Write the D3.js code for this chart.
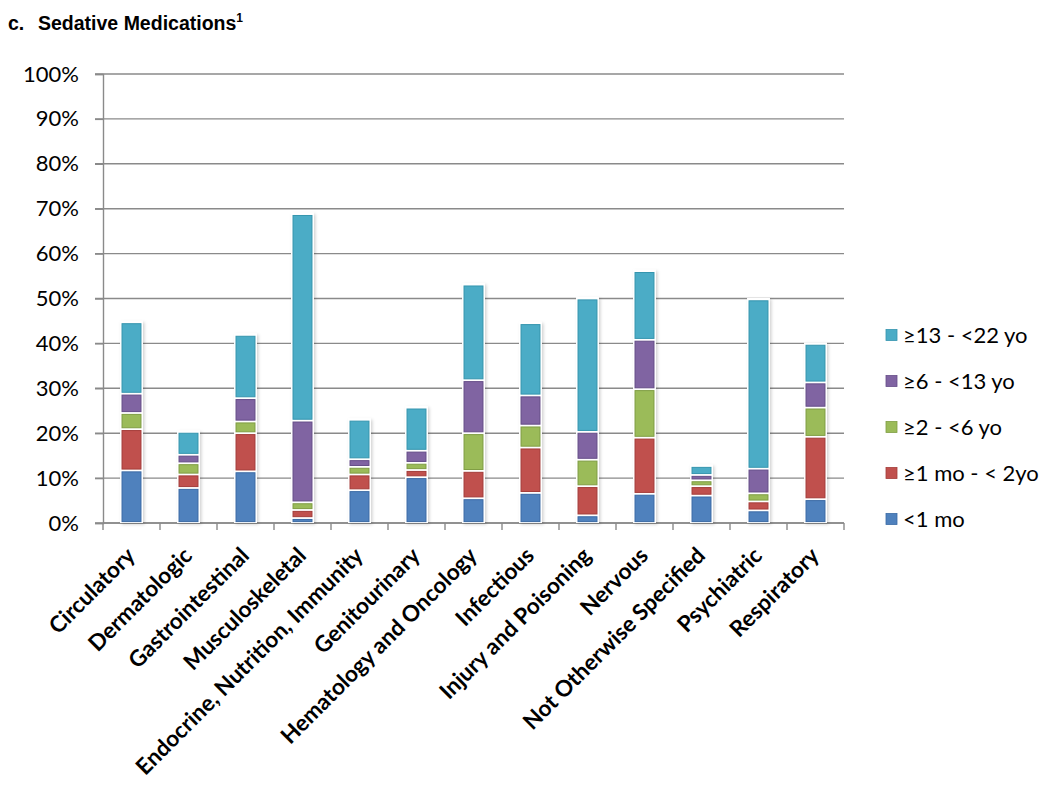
<!DOCTYPE html>
<html>
<head>
<meta charset="utf-8">
<script src="https://cdn.jsdelivr.net/npm/d3@7"></script>
<style>
  body { margin: 0; background: #fff; }
  svg { display: block; }
</style>
</head>
<body>
<svg id="chart" width="1050" height="794"></svg>
<script>
const categories = ["Circulatory", "Dermatologic", "Gastrointestinal", "Musculoskeletal",
  "Endocrine, Nutrition, Immunity", "Genitourinary", "Hematology and Oncology", "Infectious",
  "Injury and Poisoning", "Nervous", "Not Otherwise Specified", "Psychiatric", "Respiratory"];
const seriesNames = ["<1 mo", "≥1 mo - < 2yo", "≥2 - <6 yo", "≥6 - <13 yo", "≥13 - <22 yo"];
const lt1mo   = [11.7, 7.8, 11.5, 1.1, 7.3, 10.2, 5.5, 6.7, 1.7, 6.5, 6.1, 2.8, 5.3];
const mo1to2y = [9.2, 3.0, 8.5, 1.8, 3.5, 1.6, 6.1, 10.1, 6.5, 12.5, 2.1, 2.0, 13.9];
const y2to6   = [3.6, 2.5, 2.6, 1.7, 1.7, 1.6, 8.4, 4.9, 5.9, 10.8, 1.3, 1.8, 6.5];
const y6to13  = [4.3, 1.9, 5.2, 18.2, 1.7, 2.7, 11.8, 6.7, 6.2, 11.0, 1.2, 5.5, 5.6];
const y13to22 = [15.9, 5.1, 14.1, 46.0, 8.8, 9.6, 21.3, 16.1, 29.7, 15.3, 2.0, 37.7, 8.6];
const yTicks = [0, 10, 20, 30, 40, 50, 60, 70, 80, 90, 100];
const colors = ["#4f81bd", "#c0504d", "#9bbb59", "#8064a2", "#4bacc6"];
const strokes = ["#3a6aa5", "#a43c39", "#7f9d43", "#654c88", "#3595ae"];

const seriesValues = [lt1mo, mo1to2y, y2to6, y6to13, y13to22];
const table = categories.map((c, i) => {
  const row = { cat: c };
  seriesNames.forEach((s, j) => row[s] = seriesValues[j][i]);
  return row;
});

const svg = d3.select("#chart");
const pLeft = 103, pRight = 844, pTop = 74, pBottom = 523;

const x = d3.scaleBand().domain(categories).range([pLeft, pRight]).paddingInner(0.65).paddingOuter(0.325);
const xb = d3.scaleBand().domain(categories).range([pLeft, pRight]).padding(0);
const y = d3.scaleLinear().domain([0, 100]).range([pBottom, pTop]);

const defs = svg.append("defs");
const f = defs.append("filter").attr("id", "shadow").attr("x", "-50%").attr("y", "-10%").attr("width", "200%").attr("height", "120%");
f.append("feDropShadow").attr("dx", 1.5).attr("dy", 1.5).attr("stdDeviation", 1.5).attr("flood-color", "#000").attr("flood-opacity", 0.18);

// title
const title = svg.append("text").attr("x", 8).attr("y", 30)
  .attr("font-family", "Liberation Sans, Arial, sans-serif").attr("font-weight", "bold")
  .attr("font-size", 19.5).attr("fill", "#000");
title.append("tspan").text("c.");
title.append("tspan").attr("x", 38).text("Sedative Medications");
title.append("tspan").attr("dy", -8).attr("font-size", 12).text("1");

// gridlines
svg.append("g").selectAll("line").data(yTicks).join("line")
  .attr("x1", pLeft - 8).attr("x2", pRight)
  .attr("y1", d => y(d)).attr("y2", d => y(d))
  .attr("stroke", "#8a8a8a").attr("stroke-width", 1.4);

// y axis
const yAxis = svg.append("g").attr("transform", `translate(${pLeft},0)`)
  .call(d3.axisLeft(y).tickValues(yTicks).tickFormat(d => d + "%").tickSize(8).tickPadding(16));
yAxis.select(".domain").attr("stroke", "#8a8a8a").attr("stroke-width", 1.4);
yAxis.selectAll(".tick line").attr("stroke", "#8a8a8a").attr("stroke-width", 1.4);
yAxis.selectAll("text").attr("font-family", "Lato, 'Open Sans', sans-serif").attr("font-size", 22).attr("fill", "#000");

// x axis (ticks at band boundaries)
const xAxis = svg.append("g").attr("transform", `translate(0,${pBottom})`);
xAxis.append("line").attr("x1", pLeft).attr("x2", pRight).attr("y1", 0).attr("y2", 0)
  .attr("stroke", "#8a8a8a").attr("stroke-width", 1.4);
const bounds = categories.map(c => xb(c)).concat([pRight]);
xAxis.selectAll("line.t").data(bounds).join("line").attr("class", "t")
  .attr("x1", d => d).attr("x2", d => d).attr("y1", 0).attr("y2", 7)
  .attr("stroke", "#8a8a8a").attr("stroke-width", 1.4);
xAxis.selectAll("text").data(categories).join("text")
  .attr("transform", d => `translate(${x(d) + x.bandwidth() / 2 + 5},${34}) rotate(-45)`)
  .attr("text-anchor", "end")
  .attr("font-family", "Lato, 'Open Sans', sans-serif").attr("font-weight", "bold")
  .attr("font-size", 22.5).attr("fill", "#000")
  .text(d => d);

// stacked bars
const stacked = d3.stack().keys(seriesNames)(table);
const totals = table.map(r => d3.sum(seriesNames, s => r[s]));

// white backing with shadow
svg.append("g").selectAll("rect").data(categories).join("rect")
  .attr("x", d => x(d) - 1.5).attr("width", x.bandwidth() + 3)
  .attr("y", (d, i) => y(totals[i]) - 1.5)
  .attr("height", (d, i) => pBottom - y(totals[i]) + 1.5)
  .attr("fill", "#fff").attr("filter", "url(#shadow)");

const inset = 1.4;
svg.append("g").selectAll("g").data(stacked).join("g")
  .each(function (layer, li) {
    d3.select(this).selectAll("rect").data(layer).join("rect")
      .attr("x", d => x(d.data.cat) + 0.5)
      .attr("width", x.bandwidth() - 1)
      .attr("y", d => y(d[1]) + inset)
      .attr("height", d => Math.max(0.5, y(d[0]) - y(d[1]) - 2 * inset))
      .attr("fill", colors[li])
      .attr("stroke", strokes[li]).attr("stroke-width", 1);
  });

// legend
const legendOrder = [4, 3, 2, 1, 0];
const lg = svg.append("g");
legendOrder.forEach((si, k) => {
  const cy = 335 + k * 46;
  lg.append("rect").attr("x", 886).attr("y", cy - 5.5).attr("width", 11).attr("height", 11)
    .attr("fill", colors[si]).attr("stroke", strokes[si]).attr("stroke-width", 0.8);
  lg.append("text").attr("x", 903).attr("y", cy + 8)
    .attr("font-family", "Lato, 'Open Sans', sans-serif").attr("font-size", 22).attr("fill", "#000")
    .text(seriesNames[si]);
});
</script>
</body>
</html>
